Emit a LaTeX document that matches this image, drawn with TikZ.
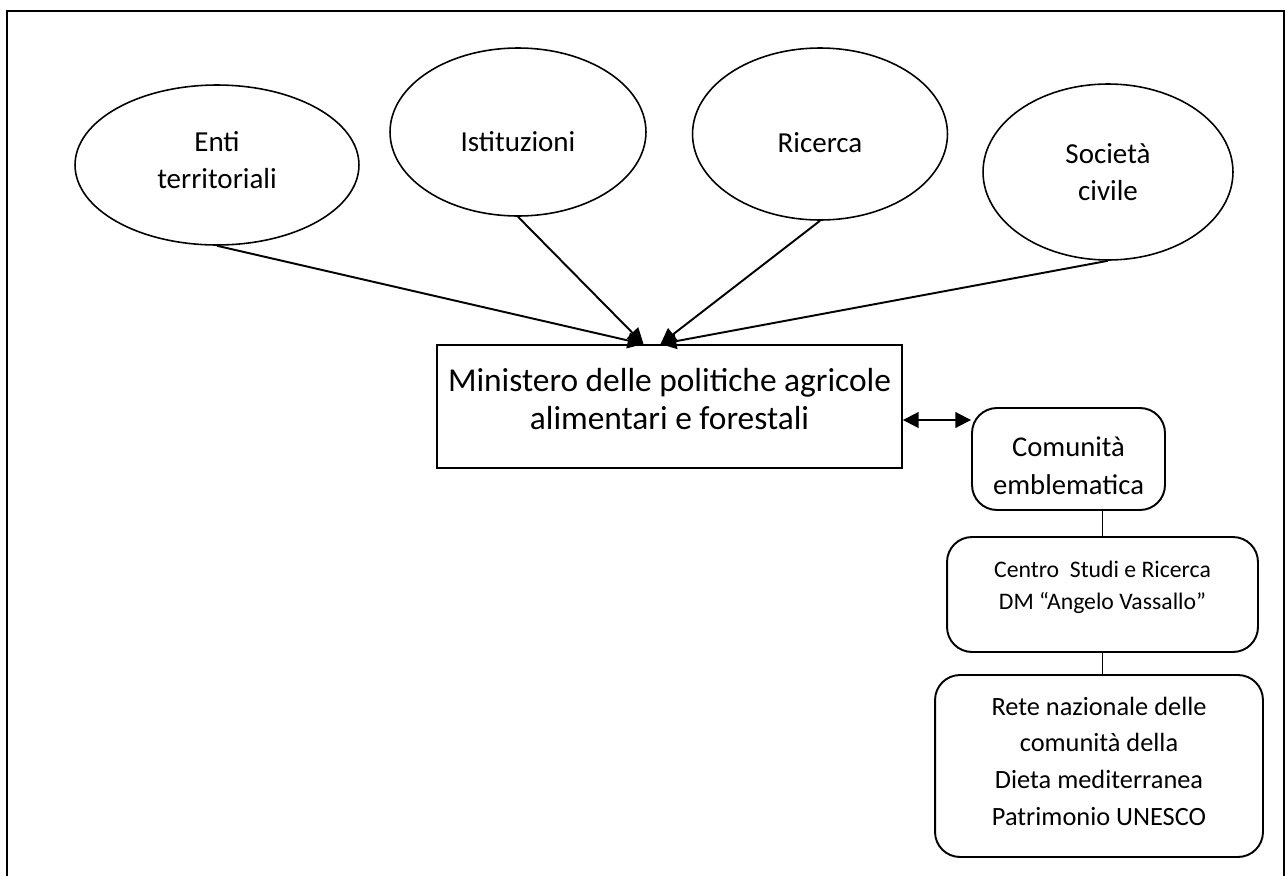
\documentclass[tikz,border=0pt]{standalone}
\usepackage{fontspec}
\setmainfont{Carlito}
\usetikzlibrary{shapes.geometric,arrows.meta,calc}
% move the text inside a fixed-size node without changing the node
\newcommand{\nudge}[2]{\raisebox{#1}[\height][\depth]{\begin{tabular}{@{}c@{}}#2\end{tabular}}}

\begin{document}
\begin{tikzpicture}[x=0.02cm,y=-0.02cm,line width=1.1pt,
    ell/.style={draw,ellipse,align=center,inner sep=0pt,line width=0.9pt,font=\fontsize{16.5}{21}\selectfont},
    rbox/.style={draw,rounded corners=0.5cm,align=center,inner sep=0pt,font=\fontsize{16}{21.6}\selectfont},
    tip/.style={-{Triangle[width=9pt,length=9pt]}}]
      \useasboundingbox (0,0) rectangle (1285,876);
      % frame, open at the bottom
      \draw (7,876) -- (7,11) -- (1284,11) -- (1284,876);
      % the four partners
      \node[ell,minimum width=5.68cm,minimum height=3.2cm] (enti) at (217,165) {\nudge{0.05cm}{Enti\\territoriali}};
      \node[ell,minimum width=5.12cm,minimum height=3.36cm] (istituzioni) at (518,132) {\nudge{-0.24cm}{Istituzioni}};
      \node[ell,minimum width=5.1cm,minimum height=3.44cm] (ricerca) at (820,134) {\nudge{-0.22cm}{Ricerca}};
      \node[ell,minimum width=5.0cm,minimum height=3.52cm] (societa) at (1108,172) {Società\\civile};
      % ministry
      \node[draw,align=center,minimum width=9.3cm,minimum height=2.46cm,inner sep=0pt,
            font=\fontsize{19}{21.6}\selectfont] (mipaaf) at (669.5,406.5)
            {\nudge{0.08cm}{Ministero delle politiche agricole\\alimentari e forestali}};
      \coordinate (tipL) at ($(mipaaf.north)+(-26,0)$);
      \coordinate (tipR) at ($(mipaaf.north)+(-9,0)$);
      \draw[tip] (enti.south) -- (tipL);
      \draw[tip] (istituzioni.south) -- (tipL);
      \draw[tip] (ricerca.south) -- (tipR);
      \draw[tip] (societa.south) -- (tipR);
      % chain on the right
      \node[rbox,minimum width=3.86cm,minimum height=2.04cm,font=\fontsize{16.3}{21.6}\selectfont] (comunita) at (1068.5,459)
            {\nudge{-0.18cm}{Comunità\\emblematica}};
      \node[rbox,minimum width=6.22cm,minimum height=2.3cm,font=\fontsize{13.5}{18.2}\selectfont] (centro) at (1102.5,594.5)
            {\nudge{0.14cm}{Centro\ \ Studi e Ricerca\\DM “Angelo Vassallo”}};
      \node[rbox,minimum width=6.56cm,minimum height=3.64cm,font=\fontsize{15}{21}\selectfont] (rete) at (1099,766)
            {\nudge{0.06cm}{Rete nazionale delle\\comunità della\\Dieta mediterranea\\Patrimonio UNESCO}};
      \coordinate (dbl) at ($(mipaaf.east)+(0,13.5)$);
      \draw[{Triangle[width=9pt,length=9pt]}-{Triangle[width=9pt,length=9pt]}] (dbl) -- (dbl -| comunita.west);
      \draw (centro.north) -- (centro.north |- comunita.south);
      \draw (centro.south) -- (centro.south |- rete.north);
\end{tikzpicture}
\end{document}
